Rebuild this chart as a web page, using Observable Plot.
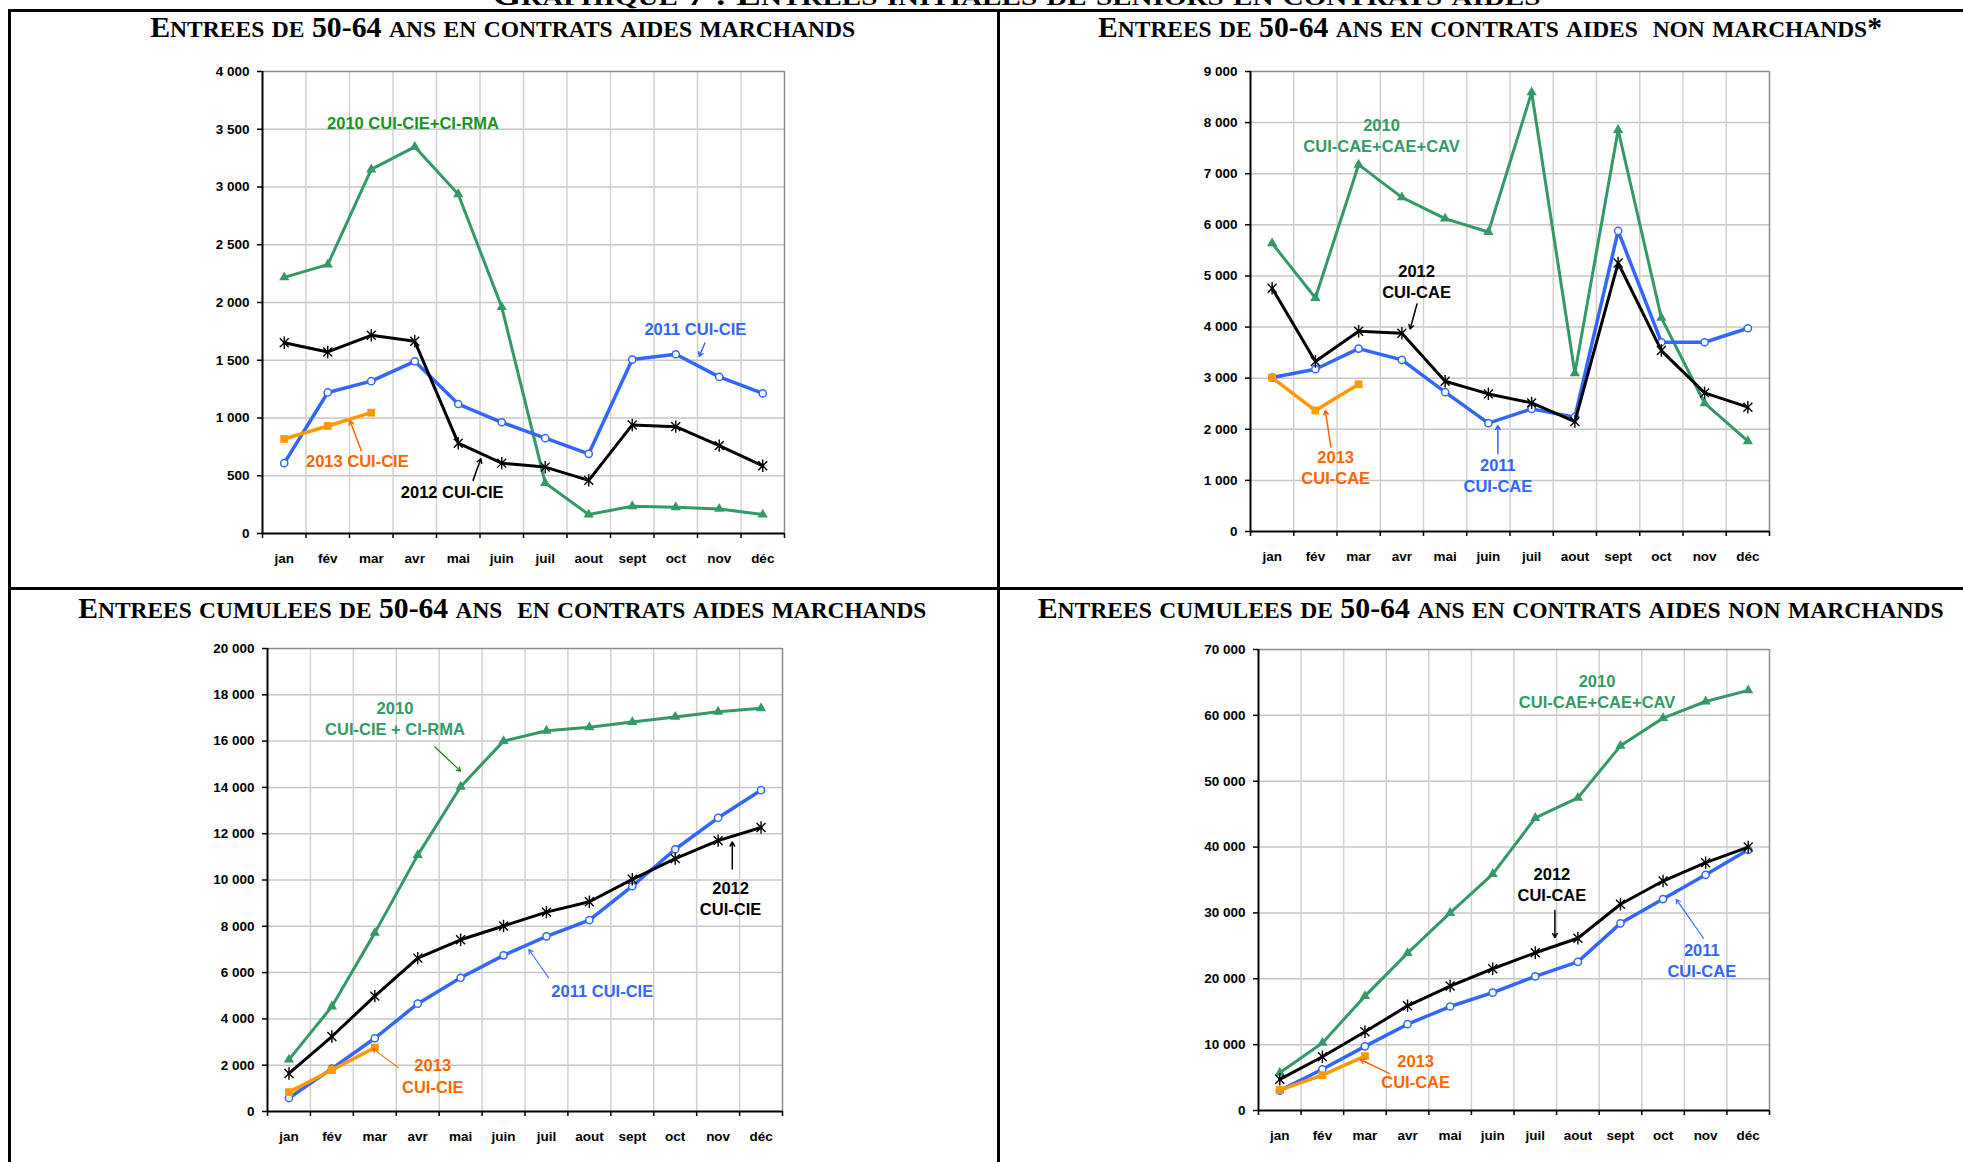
<!DOCTYPE html>
<html><head><meta charset="utf-8">
<script src="https://cdn.jsdelivr.net/npm/d3@7"></script>
<script src="https://cdn.jsdelivr.net/npm/@observablehq/plot@0.6"></script>
<style>
html,body{margin:0;padding:0;background:#fff;width:1963px;height:1162px;overflow:hidden;position:relative;}
.chart{position:absolute;}
.chart svg text{font-weight:bold;}
.title{position:absolute;white-space:pre;font-family:"Liberation Serif","Times New Roman",serif;font-weight:bold;line-height:1;transform-origin:50% 50%;color:#000;}
.title .sc{font-size:0.79em;}
.rule{position:absolute;background:#000;}
</style></head><body>
<script>
// ---- categories ----
const months = ["jan","fév","mar","avr","mai","juin","juil","aout","sept","oct","nov","déc"];

// ---- Entrées mensuelles, marchand ----
const m2010 = [2218,2328,3152,3348,2937,1960,437,164,236,227,213,164];
const m2011 = [609,1221,1319,1491,1121,963,825,690,1506,1552,1356,1213];
const m2012 = [1652,1572,1716,1664,782,609,575,460,940,925,761,586];
const m2013 = [819,931,1046];

// ---- Entrées mensuelles, non marchand ----
const n2010 = [5639,4570,7177,6538,6121,5860,8592,3097,7855,4179,2510,1767];
const n2011 = [3012,3175,3579,3357,2725,2119,2399,2236,5880,3703,3703,3977];
const n2012 = [4759,3325,3918,3879,2940,2692,2516,2151,5254,3540,2712,2432];
const n2013 = [3012,2366,2881];

// ---- Entrées cumulées, marchand ----
const cm2010 = [2239,4537,7716,11075,14030,16000,16448,16597,16821,17045,17269,17418];
const cm2011 = [582,1851,3164,4657,5776,6746,7567,8269,9731,11328,12687,13881];
const cm2012 = [1642,3239,4985,6627,7418,8015,8612,9060,10030,10925,11701,12269];
const cm2013 = [836,1791,2761];

// ---- Entrées cumulées, non marchand ----
const cn2010 = [5737,10263,17368,23895,30000,35895,44421,47474,55368,59579,62105,63789];
const cn2011 = [3012,6263,9737,13105,15789,17895,20368,22579,28421,32105,35789,39579];
const cn2012 = [4737,8158,11947,15895,18895,21526,23947,26158,31316,34842,37632,40000];
const cn2013 = [3105,5368,8263];

// ---- titles ----
const mainTitle = "Graphique 7 : Entrees initiales de seniors en contrats aides";
const titles = [
  "Entrees de 50-64 ans en contrats aides marchands",
  "Entrees de 50-64 ans en contrats aides  non marchands*",
  "Entrees cumulees de 50-64 ans  en contrats aides marchands",
  "Entrees cumulees de 50-64 ans en contrats aides non marchands"
];

// ---- annotations (text, month position, value) ----
const annTL = [
  {t:"2010 CUI-CIE+CI-RMA", x:3.96, y:3549, c:"#14961e"},
  {t:"2011 CUI-CIE", x:10.45, y:1764, c:"#3366ff"},
  {t:"2013 CUI-CIE", x:2.68, y:618, c:"#ff6600"},
  {t:"2012 CUI-CIE", x:4.86, y:351, c:"#000000"}
];
const arrTL = [
  {x1:10.67,y1:1649,x2:10.54,y2:1534,c:"#3366ff",w:1.5},
  {x1:2.77,y1:718,x2:2.51,y2:977,c:"#ff6600",w:1.5},
  {x1:5.34,y1:460,x2:5.52,y2:647,c:"#000000",w:1.5}
];
const annTR = [
  {t:"2010", x:3.53, y:7940, c:"#339966"},
  {t:"CUI-CAE+CAE+CAV", x:3.53, y:7529, c:"#339966"},
  {t:"2012", x:4.34, y:5085, c:"#000000"},
  {t:"CUI-CAE", x:4.34, y:4668, c:"#000000"},
  {t:"2013", x:2.47, y:1441, c:"#ff6600"},
  {t:"CUI-CAE", x:2.47, y:1030, c:"#ff6600"},
  {t:"2011", x:6.22, y:1291, c:"#3366ff"},
  {t:"CUI-CAE", x:6.22, y:880, c:"#3366ff"}
];
const arrTR = [
  {x1:4.35,y1:4452,x2:4.19,y2:3963,c:"#000000",w:1.5},
  {x1:2.36,y1:1649,x2:2.23,y2:2366,c:"#ff6600",w:1.5},
  {x1:6.22,y1:1519,x2:6.22,y2:2073,c:"#3366ff",w:1.5}
];
const annBL = [
  {t:"2010", x:3.47, y:17403, c:"#339966"},
  {t:"CUI-CIE + CI-RMA", x:3.47, y:16493, c:"#339966"},
  {t:"2012", x:11.29, y:9627, c:"#000000"},
  {t:"CUI-CIE", x:11.29, y:8716, c:"#000000"},
  {t:"2011 CUI-CIE", x:8.30, y:5179, c:"#3366ff"},
  {t:"2013", x:4.35, y:1970, c:"#ff6600"},
  {t:"CUI-CIE", x:4.35, y:1045, c:"#ff6600"}
];
const arrBL = [
  {x1:4.40,y1:15746,x2:5.00,y2:14701,c:"#008000",w:1.1},
  {x1:11.33,y1:10478,x2:11.33,y2:11642,c:"#000000",w:1.5},
  {x1:7.05,y1:5776,x2:6.59,y2:7000,c:"#3366ff",w:1.1},
  {x1:3.55,y1:1896,x2:2.95,y2:2716,c:"#ff6600",w:1.1}
];
const annBR = [
  {t:"2010", x:8.45, y:65053, c:"#339966"},
  {t:"CUI-CAE+CAE+CAV", x:8.45, y:61947, c:"#339966"},
  {t:"2012", x:7.39, y:35789, c:"#000000"},
  {t:"CUI-CAE", x:7.39, y:32632, c:"#000000"},
  {t:"2011", x:10.91, y:24211, c:"#3366ff"},
  {t:"CUI-CAE", x:10.91, y:21053, c:"#3366ff"},
  {t:"2013", x:4.19, y:7368, c:"#ff6600"},
  {t:"CUI-CAE", x:4.19, y:4211, c:"#ff6600"}
];
const arrBR = [
  {x1:7.46,y1:30368,x2:7.46,y2:26263,c:"#000000",w:1.5},
  {x1:10.95,y1:26158,x2:10.31,y2:32053,c:"#3366ff",w:1.1},
  {x1:3.57,y1:5632,x2:2.89,y2:7737,c:"#ff6600",w:1.5}
];

// ---- helpers ----
const rows = arr => arr.map((v,i)=>({m:i+1, v}));
const fmt = d => d3.format(",")(d).replace(/,/g, " ");
const starSymbol = {
  draw(ctx, size) {
    const r = Math.sqrt(size/Math.PI), d = r*0.72;
    ctx.moveTo(0,-r); ctx.lineTo(0,r);
    ctx.moveTo(-d,-d); ctx.lineTo(d,d);
    ctx.moveTo(-d,d); ctx.lineTo(d,-d);
  }
};

function chart(cfg) {
  const mL=70, mT=12, mR=14, mB=50;
  const W = cfg.right - cfg.left, H = cfg.bottom - cfg.top;
  const yTicks = d3.range(0, cfg.yMax + cfg.yStep/2, cfg.yStep);
  const s10 = rows(cfg.s[0]), s11 = rows(cfg.s[1]), s12 = rows(cfg.s[2]), s13 = rows(cfg.s[3]);
  const plot = Plot.plot({
    width: W+mL+mR, height: H+mT+mB,
    marginLeft:mL, marginTop:mT, marginRight:mR, marginBottom:mB,
    x:{domain:[0.5,12.5]}, y:{domain:[0,cfg.yMax]},
    style:{fontFamily:"'Liberation Sans', Arial, sans-serif", background:"transparent", overflow:"visible", color:"#000"},
    marks:[
      Plot.ruleY(yTicks.slice(1,-1), {stroke:"#c6c6c6", strokeWidth:1.5}),
      Plot.ruleX(d3.range(1.5,12,1), {stroke:"#d2d2d2", strokeWidth:1.5}),
      Plot.ruleY([cfg.yMax], {stroke:"#8c8c8c", strokeWidth:1.5}),
      Plot.ruleX([12.5], {stroke:"#8c8c8c", strokeWidth:1.5}),
      Plot.line(s10, {x:"m", y:"v", stroke:"#339966", strokeWidth:3}),
      Plot.dot(s10, {x:"m", y:"v", symbol:"triangle", fill:"#339966", r:3.8}),
      Plot.line(s11, {x:"m", y:"v", stroke:"#3366ff", strokeWidth:3.5}),
      Plot.dot(s11, {x:"m", y:"v", symbol:"circle", fill:"#fff", stroke:"#3366ff", strokeWidth:1.5, r:3.6}),
      Plot.line(s12, {x:"m", y:"v", stroke:"#000", strokeWidth:3}),
      Plot.dot(s12, {x:"m", y:"v", symbol:starSymbol, stroke:"#000", fill:"none", strokeWidth:1.4, r:6.2}),
      Plot.line(s13, {x:"m", y:"v", stroke:"#ff9900", strokeWidth:3.5}),
      Plot.dot(s13, {x:"m", y:"v", symbol:"square", fill:"#ff9900", r:4.4}),
      Plot.arrow(cfg.arr, {x1:"x1", y1:"y1", x2:"x2", y2:"y2", stroke:"c", strokeWidth:"w", headLength:7}),
      Plot.text(cfg.ann, {x:"x", y:"y", text:"t", fill:"c", fontSize:16.5}),
      Plot.ruleX([0.5], {stroke:"#000", strokeWidth:2}),
      Plot.ruleY([0], {stroke:"#000", strokeWidth:2}),
      Plot.axisY({ticks:yTicks, tickFormat:fmt, tickSize:5, tickPadding:8, fontSize:13.5, label:null, strokeWidth:1.5}),
      Plot.axisX({ticks:d3.range(0.5,13,1), tickFormat:()=>"", tickSize:5, label:null, strokeWidth:1.5}),
      Plot.axisX({ticks:d3.range(1,13), tickFormat:i=>months[i-1], tickSize:0, tickPadding:20, fontSize:13.5, label:null})
    ]
  });
  const div = document.createElement("div");
  div.className = "chart";
  div.style.left = (cfg.left - mL) + "px";
  div.style.top = (cfg.top - mT) + "px";
  div.appendChild(plot);
  document.body.appendChild(div);
}

chart({left:262, right:784, top:71, bottom:533, yMax:4000, yStep:500, s:[m2010,m2011,m2012,m2013], ann:annTL, arr:arrTL});
chart({left:1250, right:1769, top:71, bottom:531, yMax:9000, yStep:1000, s:[n2010,n2011,n2012,n2013], ann:annTR, arr:arrTR});
chart({left:267, right:782, top:648, bottom:1111, yMax:20000, yStep:2000, s:[cm2010,cm2011,cm2012,cm2013], ann:annBL, arr:arrBL});
chart({left:1258, right:1769, top:649, bottom:1110, yMax:70000, yStep:10000, s:[cn2010,cn2011,cn2012,cn2013], ann:annBR, arr:arrBR});

// ---- titles (small caps emulated: lowercase letters drawn as smaller capitals) ----
function title(text, cx, baseline, targetW, size) {
  const d = document.createElement("div");
  d.className = "title";
  d.style.fontSize = size + "px";
  const parts = text.match(/[a-zà-ÿ]+|[^a-zà-ÿ]+/g);
  for (const p of parts) {
    const s = document.createElement("span");
    if (/[a-zà-ÿ]/.test(p[0])) { s.className = "sc"; s.textContent = p.toUpperCase(); }
    else s.textContent = p;
    d.appendChild(s);
  }
  document.body.appendChild(d);
  const w = d.getBoundingClientRect().width;
  d.style.left = (cx - w/2) + "px";
  d.style.top = (baseline - 0.8375*size) + "px";
  d.style.transform = `scaleX(${targetW / w})`;
}
title(mainTitle, 1016, 5, 1048, 30);
title(titles[0], 503, 37.5, 705, 30);
title(titles[1], 1490, 37.5, 784, 30);
title(titles[2], 502, 618.5, 848, 30);
title(titles[3], 1491, 618.5, 906, 30);

// ---- frame rules ----
function rule(l, t, w, h) {
  const d = document.createElement("div");
  d.className = "rule";
  Object.assign(d.style, {left:l+"px", top:t+"px", width:w+"px", height:h+"px"});
  document.body.appendChild(d);
}
rule(8, 8.5, 1955, 3);
rule(8, 8.5, 3, 1154);
rule(996.5, 8.5, 3, 1154);
rule(8, 586.5, 1955, 3);
</script>
</body></html>
